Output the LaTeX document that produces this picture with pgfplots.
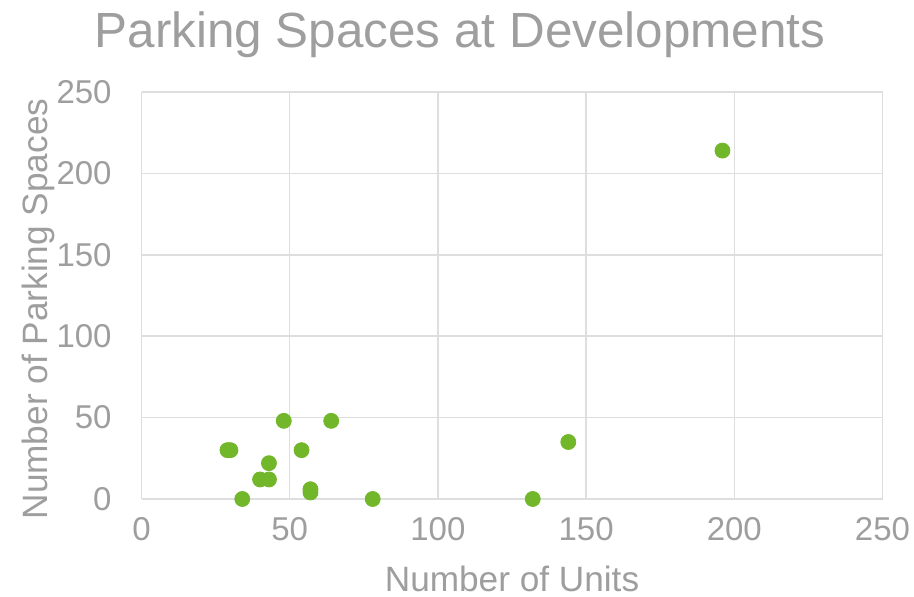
\documentclass[border=0pt]{standalone}
\usepackage{pgfplots}
\pgfplotsset{compat=1.18}
\usepackage{fontspec}
\setmainfont{Liberation Sans}
\definecolor{dotgreen}{RGB}{114,183,42}
\definecolor{txtgray}{RGB}{158,158,158}
\definecolor{gridgray}{RGB}{222,222,222}
\pgfplotstableread{
u p
48 48
64 48
29 30
30 30
54 30
43 22
40 12
43 12
34 0
57 6
57 4
78 0
144 35
132 0
196 214
}\parking
\begin{document}
\begin{tikzpicture}
\useasboundingbox (0,0) rectangle (457pt,298.5pt);
\begin{axis}[
  at={(70.75pt,49pt)}, anchor=south west,
  scale only axis,
  width=370.5pt, height=203.5pt,
  xmin=0, xmax=250, ymin=0, ymax=250,
  xtick={0,50,...,250}, ytick={0,50,...,250},
  grid=major, grid style={gridgray, line width=0.75pt},
  axis line style={draw=none},
  major tick style={draw=none},
  /pgf/number format/assume math mode=true,
  ticklabel style={font=\fontsize{16.5}{20}\selectfont, text=txtgray, inner sep=0pt},
  xticklabel style={anchor=north, yshift=-9pt},
  yticklabel style={anchor=east, xshift=-14.75pt},
  clip=false,
]
\addplot[only marks, mark=*, mark size=3.75pt, mark options={fill=dotgreen, draw=dotgreen}] table[x=u, y=p] {\parking};
\end{axis}
\node[anchor=base, text=txtgray, font=\fontsize{24.7}{28}\selectfont] at (230pt,274.5pt) {Parking Spaces at Developments};
\node[anchor=base, text=txtgray, font=\fontsize{17.6}{20}\selectfont] at (256pt,2.5pt) {Number of Units};
\node[anchor=base, rotate=90, text=txtgray, font=\fontsize{17.6}{20}\selectfont] at (23.5pt,144pt) {Number of Parking Spaces};
\end{tikzpicture}
\end{document}
